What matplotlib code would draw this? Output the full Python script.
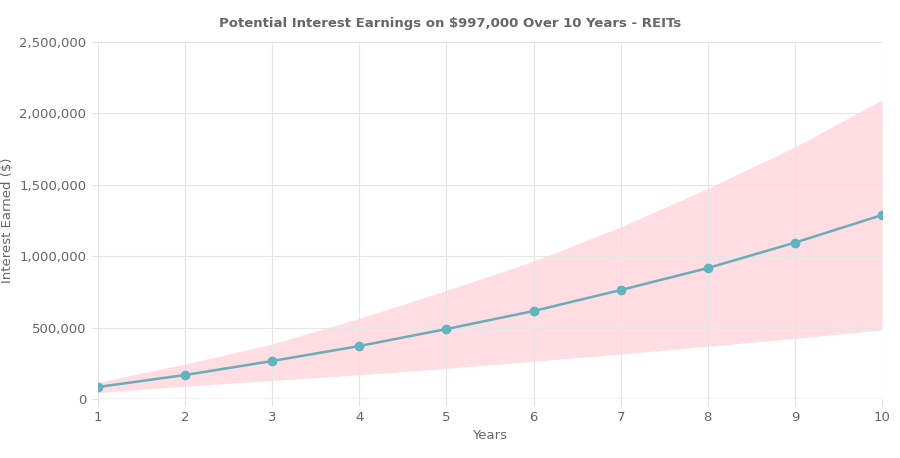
import matplotlib
matplotlib.use("Agg")
import matplotlib.pyplot as plt
import matplotlib.ticker as mticker

years = [1, 2, 3, 4, 5, 6, 7, 8, 9, 10]
expected = [84000, 168000, 266000, 371000, 490000, 616000, 763000, 917000, 1095000, 1288000]
upper = [118000, 245000, 385000, 565000, 760000, 965000, 1205000, 1475000, 1765000, 2095000]
lower = [45000, 90000, 130000, 170000, 215000, 265000, 315000, 370000, 425000, 485000]

fig = plt.figure(figsize=(9, 4.58), dpi=100)
ax = fig.add_axes([98 / 900, 1 - 399 / 458, 784 / 900, 357 / 458])

ax.fill_between(years, lower, upper, color="#ffdde3", linewidth=0)
ax.plot(years, expected, color="#6aacb8", linewidth=1.8, marker="o",
        markersize=6, markerfacecolor="#5fb4bd", markeredgecolor="#5fb4bd", zorder=5)

ax.set_xlim(1, 10)
ax.set_ylim(0, 2500000)
ax.set_xticks(years)
ax.set_yticks(range(0, 2500001, 500000))
ax.yaxis.set_major_formatter(mticker.FuncFormatter(lambda v, _: f"{v:,.0f}"))
ax.grid(True, color="#e5e5e5", linewidth=0.8)
for s in ax.spines.values():
    s.set_visible(False)
ax.axhline(0, color="#cccccc", linewidth=1)
ax.tick_params(colors="#666666", labelsize=9.5, length=5, color="#e5e5e5")
ax.set_xlabel("Years", color="#666666", fontsize=9.5)
ax.set_ylabel("Interest Earned ($)", color="#666666", fontsize=9.5)
fig.text(450 / 900, 1 - 24 / 458, "Potential Interest Earnings on $997,000 Over 10 Years - REITs",
         ha="center", va="center", fontsize=9.5, fontweight="bold", color="#666666")

fig.savefig("out.png", dpi=100, facecolor="white")
